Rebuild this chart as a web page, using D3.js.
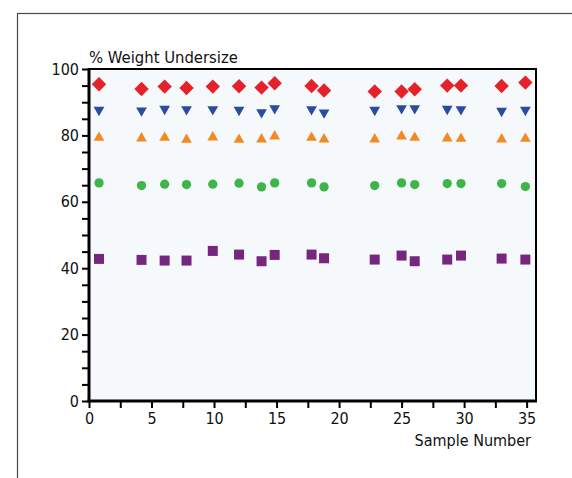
<!DOCTYPE html>
<html>
<head>
<meta charset="utf-8">
<script src="https://cdn.jsdelivr.net/npm/d3@7"></script>
<style>
  body { margin: 0; background: #fff; }
  svg { display: block; font-family: "DejaVu Sans Condensed", "DejaVu Sans", Verdana, sans-serif; }
</style>
</head>
<body>
<div id="chart"></div>
<script>
// sample numbers (x) shared by every series
const sampleNo = [0.8, 4.2, 6.05, 7.8, 9.9, 12.0, 13.8, 14.85, 17.8, 18.8, 22.85, 25.0, 26.05, 28.65, 29.75, 33.0, 34.9];

// % weight undersize per sieve size
const redVals    = [95.4, 94.0, 94.7, 94.3, 94.7, 94.8, 94.4, 95.7, 94.9, 93.5, 93.2, 93.2, 93.9, 95.0, 95.0, 94.9, 95.9];
const blueVals   = [87.2, 87.0, 87.5, 87.4, 87.4, 87.2, 86.5, 87.7, 87.4, 86.4, 87.2, 87.7, 87.7, 87.5, 87.4, 86.9, 87.2];
const orangeVals = [79.8, 79.6, 79.8, 79.2, 79.9, 79.2, 79.3, 80.2, 79.8, 79.3, 79.3, 80.2, 79.8, 79.6, 79.5, 79.3, 79.5];
const greenVals  = [65.7, 64.9, 65.3, 65.2, 65.3, 65.6, 64.5, 65.7, 65.7, 64.5, 64.9, 65.7, 65.2, 65.5, 65.5, 65.5, 64.6];
const purpleVals = [42.8, 42.5, 42.3, 42.3, 45.2, 44.1, 42.1, 44.0, 44.1, 43.0, 42.6, 43.8, 42.1, 42.6, 43.8, 42.9, 42.6];

const yTicks = d3.range(0, 101, 5);
const xTicks = d3.range(0, 35.1, 2.5);

const W = 572, H = 478;
const margin = { top: 69, left: 89, right: 36, bottom: 77 };
const width = W - margin.left - margin.right;
const height = H - margin.top - margin.bottom;

const svg = d3.select("#chart").append("svg")
  .attr("width", W).attr("height", H);

// outer frame
svg.append("rect")
  .attr("x", 17.5).attr("y", 13.5)
  .attr("width", 600).attr("height", 500)
  .attr("fill", "none").attr("stroke", "#4a4a4a").attr("stroke-width", 1.2);

const g = svg.append("g")
  .attr("transform", "translate(" + margin.left + "," + margin.top + ")");

const x = d3.scaleLinear().domain([0, 35.75]).range([0, width]);
const y = d3.scaleLinear().domain([0, 100]).range([height, 0]);

g.append("rect")
  .attr("width", width).attr("height", height)
  .attr("fill", "#f5f9fc")
  .attr("stroke", "#000").attr("stroke-width", 2);

// triangles centred on their bounding box
const triUp = {
  draw(ctx, size) {
    const a = Math.sqrt(size * 4 / Math.sqrt(3));
    const h = a * Math.sqrt(3) / 2;
    ctx.moveTo(0, -h / 2); ctx.lineTo(a / 2, h / 2); ctx.lineTo(-a / 2, h / 2); ctx.closePath();
  }
};
const triDown = {
  draw(ctx, size) {
    const a = Math.sqrt(size * 4 / Math.sqrt(3));
    const h = a * Math.sqrt(3) / 2;
    ctx.moveTo(0, h / 2); ctx.lineTo(a / 2, -h / 2); ctx.lineTo(-a / 2, -h / 2); ctx.closePath();
  }
};

const series = [
  { vals: purpleVals, color: "#77267f", type: d3.symbolSquare, size: 100, rot: 0 },
  { vals: greenVals, color: "#3fb549", type: d3.symbolCircle, size: 68, rot: 0 },
  { vals: orangeVals, color: "#f28a22", type: triUp, size: 50, rot: 0 },
  { vals: blueVals, color: "#2a4b9e", type: triDown, size: 50, rot: 0 },
  { vals: redVals, color: "#e5222a", type: d3.symbolSquare, size: 104, rot: 45 }
];

series.forEach(s => {
  g.append("g").selectAll("path")
    .data(sampleNo.map((d, i) => ({ x: d, y: s.vals[i] })))
    .enter().append("path")
    .attr("d", d3.symbol().type(s.type).size(s.size))
    .attr("transform", d => "translate(" + x(d.x) + "," + y(d.y) + ") rotate(" + s.rot + ")")
    .attr("fill", s.color);
});

// axes
const yAxis = d3.axisLeft(y).tickValues(yTicks).tickSize(7).tickPadding(3)
  .tickFormat(d => d % 20 === 0 ? d : "");
const xAxis = d3.axisBottom(x).tickValues(xTicks).tickSize(7).tickPadding(5)
  .tickFormat(d => d % 5 === 0 ? d : "");

const ya = g.append("g").call(yAxis);
const xa = g.append("g").attr("transform", "translate(0," + height + ")").call(xAxis);

[ya, xa].forEach(a => {
  a.select(".domain").remove();
  a.selectAll(".tick line").attr("stroke", "#000").attr("stroke-width", 2);
  a.selectAll(".tick text").attr("fill", "#111").style("font-size", "16px")
    .style("font-family", "DejaVu Sans Condensed, DejaVu Sans, Verdana, sans-serif");
});

g.append("line").attr("x1", 0).attr("x2", 0).attr("y1", -1).attr("y2", height + 1.5)
  .attr("stroke", "#000").attr("stroke-width", 3);
g.append("line").attr("x1", -1.5).attr("x2", width + 1).attr("y1", height).attr("y2", height)
  .attr("stroke", "#000").attr("stroke-width", 3);

// axis titles
svg.append("text")
  .attr("x", margin.left).attr("y", 63)
  .attr("fill", "#111").style("font-size", "16.5px")
  .text("% Weight Undersize");

svg.append("text")
  .attr("x", 531).attr("y", 446)
  .attr("text-anchor", "end")
  .attr("fill", "#111").style("font-size", "16px")
  .text("Sample Number");
</script>
</body>
</html>
